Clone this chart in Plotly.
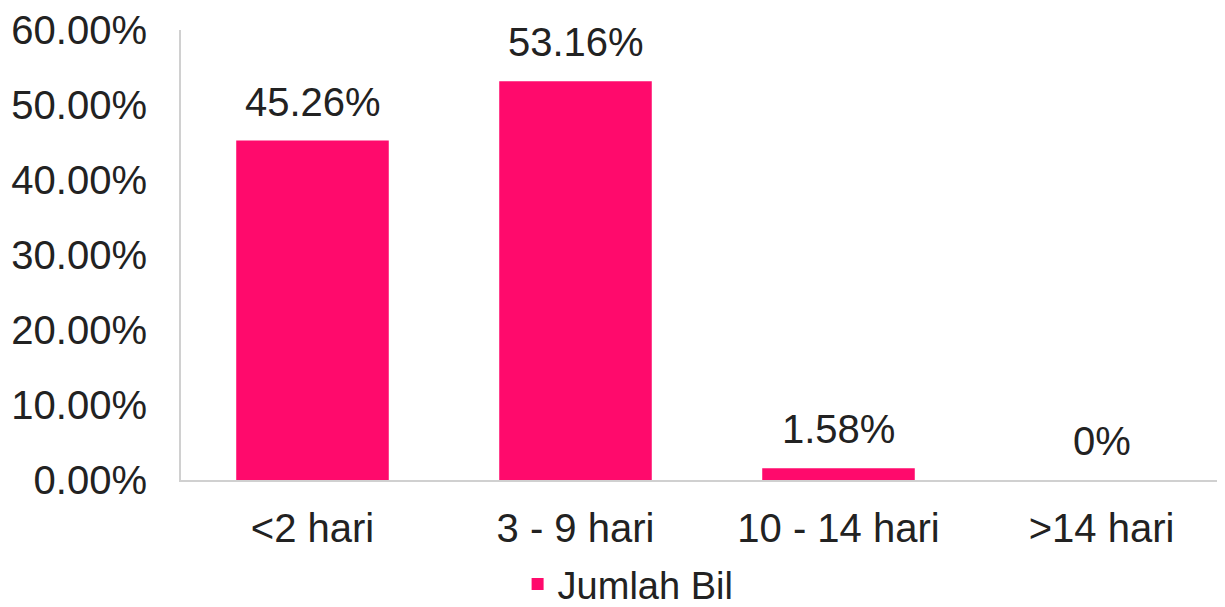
import plotly.graph_objects as go

categories = ['<2 hari', '3 - 9 hari', '10 - 14 hari', '>14 hari']
values = [45.26, 53.16, 1.58, 0]
labels = ['45.26%', '53.16%', '1.58%', '0%']
tick_vals = [0, 10, 20, 30, 40, 50, 60]
tick_text = ['0.00%', '10.00%', '20.00%', '30.00%', '40.00%', '50.00%', '60.00%']

font_family = 'Liberation Sans, Arial, sans-serif'

fig = go.Figure()
fig.add_trace(go.Bar(
    x=categories,
    y=values,
    name='Jumlah Bil',
    marker=dict(color='#FF0A6C', line=dict(width=0)),
    width=0.58,
))

# value labels above bars
for cat, val, lab in zip(categories, values, labels):
    fig.add_annotation(
        x=cat, y=val, text=lab, showarrow=False,
        yanchor='bottom', yshift=15,
        font=dict(size=40, color='#222222', family=font_family),
    )

fig.update_layout(
    width=1225, height=607,
    plot_bgcolor='white',
    paper_bgcolor='white',
    font=dict(family=font_family, size=40, color='#222222'),
    margin=dict(l=173, r=0, t=22, b=135, autoexpand=False),
    showlegend=True,
    legend=dict(
        orientation='h', x=0.425, xanchor='center', y=-0.232, yanchor='middle',
        font=dict(size=38), itemwidth=30,
    ),
    bargap=0.42,
)
fig.update_yaxes(
    range=[0, 60], tickvals=tick_vals, ticktext=tick_text,
    showgrid=False, zeroline=False,
    showline=True, linecolor='#D0D0D0', linewidth=2,
    ticks='', ticklabelstandoff=24,
)
fig.update_xaxes(
    showgrid=False, showline=True, linecolor='#D0D0D0', linewidth=2,
    ticks='', ticklabelstandoff=12,
)

fig.write_html("out.html")
